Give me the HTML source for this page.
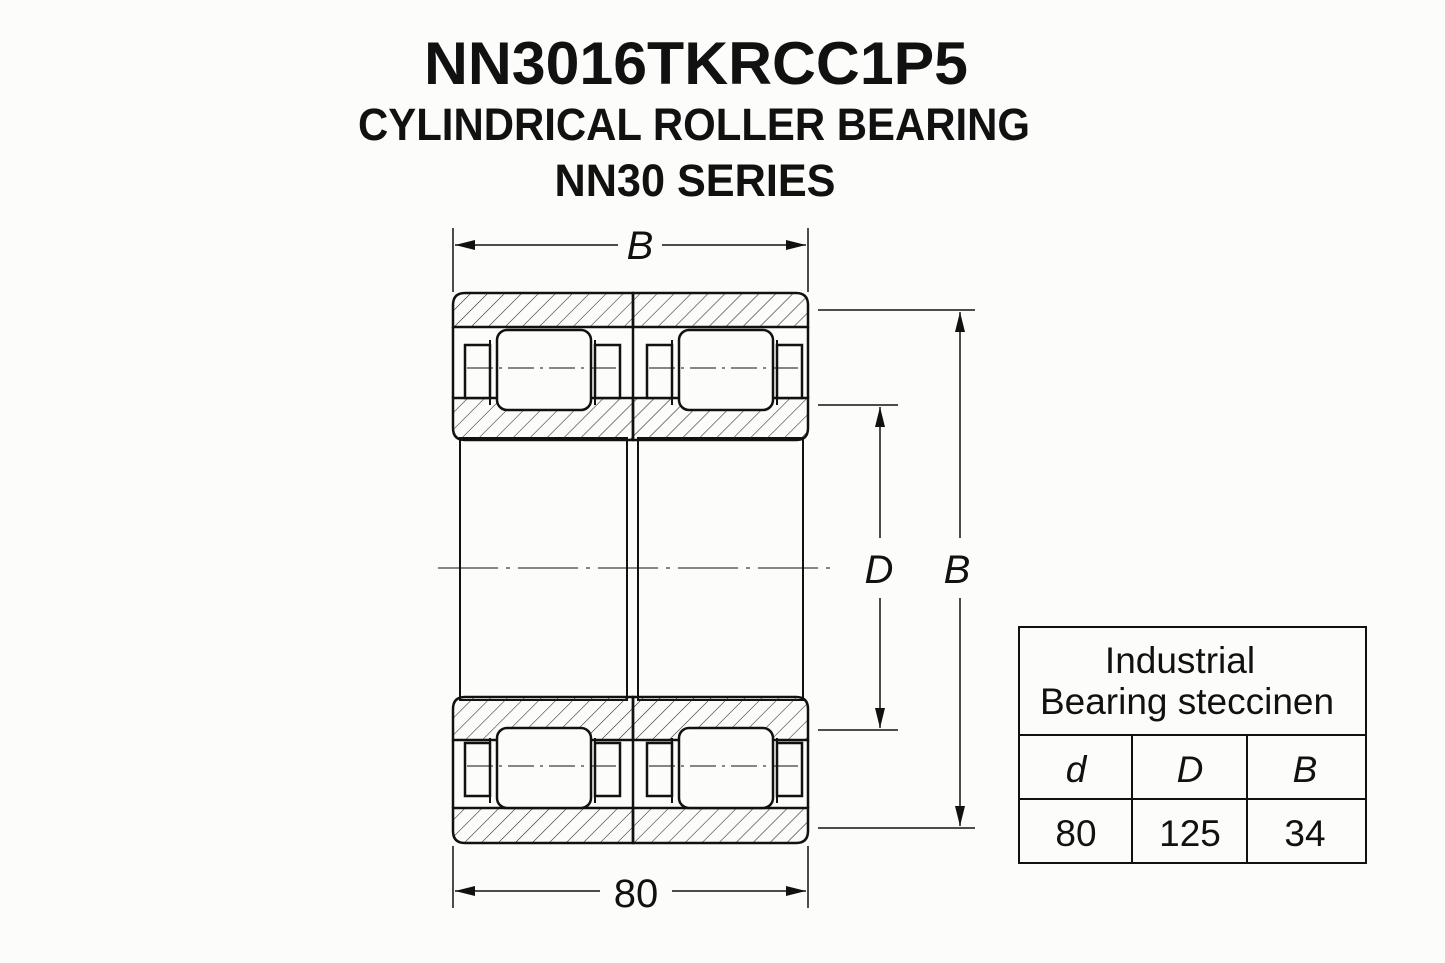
<!DOCTYPE html>
<html><head><meta charset="utf-8"><style>html,body{margin:0;padding:0;background:#fcfcfa}svg{display:block}</style></head>
<body>
<svg width="1445" height="963" viewBox="0 0 1445 963" xmlns="http://www.w3.org/2000/svg" font-family="Liberation Sans, sans-serif">
<defs>
<pattern id="h" width="12" height="12" patternUnits="userSpaceOnUse" patternTransform="rotate(45)">
<line x1="0" y1="0" x2="0" y2="12" stroke="#222" stroke-width="1.1"/>
</pattern>
<marker id="b" viewBox="0 0 20 12" refX="20" refY="6" markerWidth="20" markerHeight="12" orient="auto-start-reverse" markerUnits="userSpaceOnUse">
<path d="M0,1 L20,6 L0,11 z" fill="#111"/></marker>
</defs>
<rect width="1445" height="963" fill="#fcfcfa"/>
<g fill="#111" font-weight="bold" text-anchor="middle">
<text x="696" y="84" font-size="60" textLength="544" lengthAdjust="spacingAndGlyphs">NN3016TKRCC1P5</text>
<text x="694" y="140" font-size="45" textLength="672" lengthAdjust="spacingAndGlyphs">CYLINDRICAL ROLLER BEARING</text>
<text x="695" y="196" font-size="45" textLength="281" lengthAdjust="spacingAndGlyphs">NN30 SERIES</text>
</g>

<g stroke="#111" fill="none" stroke-width="1.5">
<line x1="453" y1="228" x2="453" y2="292"/><line x1="808" y1="228" x2="808" y2="292"/>
<line x1="455" y1="245" x2="618" y2="245" marker-start="url(#b)"/>
<line x1="662" y1="245" x2="806" y2="245" marker-end="url(#b)"/>
<line x1="453" y1="846" x2="453" y2="908"/><line x1="808" y1="846" x2="808" y2="908"/>
<line x1="455" y1="891" x2="600" y2="891" marker-start="url(#b)"/>
<line x1="672" y1="891" x2="806" y2="891" marker-end="url(#b)"/>
<line x1="818" y1="405" x2="898" y2="405"/><line x1="818" y1="730" x2="898" y2="730"/>
<line x1="880" y1="407" x2="880" y2="538" marker-start="url(#b)"/>
<line x1="880" y1="598" x2="880" y2="728" marker-end="url(#b)"/>
<line x1="818" y1="310" x2="975" y2="310"/><line x1="818" y1="828" x2="975" y2="828"/>
<line x1="960" y1="312" x2="960" y2="538" marker-start="url(#b)"/>
<line x1="960" y1="598" x2="960" y2="826" marker-end="url(#b)"/>
<line x1="438" y1="568" x2="832" y2="568" stroke-width="1.1" stroke-dasharray="60,8,4,8"/>
</g>
<g font-style="italic" font-size="40" fill="#111" text-anchor="middle">
<text x="640" y="259">B</text>
<text x="879" y="583">D</text>
<text x="957" y="583">B</text>
</g>
<text x="636" y="907" font-size="40" fill="#111" text-anchor="middle">80</text>

<g stroke="#111" stroke-width="2.5">
<rect x="460" y="438" width="167" height="262" fill="none" stroke-width="2"/>
<rect x="638" y="438" width="165" height="262" fill="none" stroke-width="2"/>
<path d="M465,293 H633 V327 H453 V305 Q453,293 465,293 Z" fill="url(#h)"/>
<path d="M633,293 H796 Q808,293 808,305 V327 H633 Z" fill="url(#h)"/>
<path d="M453,398 H633 V440 H465 Q453,440 453,428 Z" fill="url(#h)"/>
<path d="M633,398 H808 V428 Q808,440 796,440 H633 Z" fill="url(#h)"/>
<path d="M465,697 H633 V740 H453 V709 Q453,697 465,697 Z" fill="url(#h)"/>
<path d="M633,697 H796 Q808,697 808,709 V740 H633 Z" fill="url(#h)"/>
<path d="M453,808 H633 V843 H465 Q453,843 453,831 Z" fill="url(#h)"/>
<path d="M633,808 H808 V831 Q808,843 796,843 H633 Z" fill="url(#h)"/>
<line x1="453" y1="327" x2="453" y2="398"/><line x1="808" y1="327" x2="808" y2="398"/>
<line x1="453" y1="740" x2="453" y2="808"/><line x1="808" y1="740" x2="808" y2="808"/>
<line x1="633" y1="327" x2="633" y2="398"/><line x1="633" y1="740" x2="633" y2="808"/>
</g>
<g stroke="#111" stroke-width="2.5" fill="#fcfcfa">
<g id="r1">
<path d="M465,345 H490 V398 H465 Z"/>
<path d="M595,345 H620 V398 H595 Z"/>
<line x1="490" y1="340" x2="490" y2="405" stroke-width="2"/>
<line x1="595" y1="340" x2="595" y2="405" stroke-width="2"/>
<rect x="497" y="330" width="94" height="80" rx="10"/>
<line x1="467" y1="368" x2="618" y2="368" stroke-width="1" stroke-dasharray="26,6,3,6"/>
</g>
<use href="#r1" x="182"/>
<use href="#r1" y="398"/>
<use href="#r1" x="182" y="398"/>
</g>

<g stroke="#111" stroke-width="2" fill="none">
<rect x="1019" y="627" width="347" height="236"/>
<line x1="1019" y1="735" x2="1366" y2="735"/>
<line x1="1019" y1="799" x2="1366" y2="799"/>
<line x1="1132" y1="735" x2="1132" y2="863"/>
<line x1="1247" y1="735" x2="1247" y2="863"/>
</g>
<g font-size="37" fill="#111" text-anchor="middle">
<text x="1180" y="673">Industrial</text>
<text x="1187" y="714">Bearing steccinen</text>
<text x="1076" y="782" font-style="italic">d</text>
<text x="1190" y="782" font-style="italic">D</text>
<text x="1305" y="782" font-style="italic">B</text>
<text x="1076" y="846">80</text>
<text x="1190" y="846">125</text>
<text x="1305" y="846">34</text>
</g>
</svg>
</body></html>
